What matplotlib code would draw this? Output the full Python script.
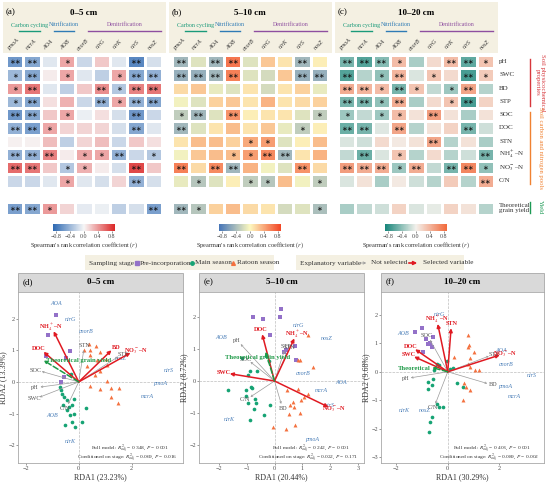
import numpy as np
import matplotlib.pyplot as plt
from matplotlib.colors import LinearSegmentedColormap
from matplotlib.patches import Rectangle

plt.rcParams['font.family'] = ['Liberation Serif', 'DejaVu Serif']
plt.rcParams['mathtext.fontset'] = 'stix'

### data ###
genes = ['pmoA', 'mcrA', 'AOA', 'AOB', 'cnorB', 'nirG', 'nirK', 'nirS', 'nosZ']
props = ['pH', 'SWC', 'BD', 'STP', 'SOC', 'DOC', 'STN', 'NH$_4^+$–N', 'NO$_3^-$–N', 'C/N']
yield_label = 'Theoretical\ngrain yield'
depths = ['0–5 cm', '5–10 cm', '10–20 cm']

# spearman r, rows = props, cols = genes
r_05 = [[-0.60, -0.50, -0.10, 0.35, -0.20, 0.20, -0.10, -0.70, -0.15],
        [-0.40, -0.50, 0.05, 0.35, -0.10, -0.25, 0.35, -0.50, -0.45],
        [0.40, 0.55, -0.10, -0.25, 0.20, 0.45, -0.30, 0.50, 0.55],
        [-0.40, -0.50, 0.10, 0.30, -0.20, -0.45, 0.35, -0.45, -0.50],
        [-0.60, -0.50, 0.20, 0.35, -0.05, 0.10, -0.15, -0.60, -0.20],
        [-0.45, -0.55, 0.35, 0.15, 0.15, 0.15, -0.15, -0.50, -0.10],
        [0.03, 0.03, 0.25, -0.25, 0.15, 0.25, -0.20, 0.20, 0.10],
        [-0.45, -0.45, 0.50, 0.05, 0.35, 0.35, -0.45, -0.20, -0.30],
        [0.60, 0.55, 0.20, -0.30, 0.30, 0.05, -0.15, 0.75, 0.20],
        [-0.20, -0.20, -0.10, 0.35, -0.10, -0.15, 0.15, -0.45, -0.15]]
sig_05 = [[2, 2, 0, 1, 0, 0, 0, 2, 0],
          [1, 2, 0, 1, 0, 0, 1, 2, 2],
          [1, 2, 0, 0, 0, 2, 1, 2, 2],
          [1, 2, 0, 0, 0, 2, 1, 2, 2],
          [2, 2, 0, 1, 0, 0, 0, 2, 0],
          [2, 2, 1, 0, 0, 0, 0, 2, 0],
          [0, 0, 0, 0, 0, 0, 0, 0, 0],
          [2, 2, 2, 0, 1, 1, 2, 0, 1],
          [2, 2, 0, 1, 1, 0, 0, 2, 0],
          [0, 0, 0, 1, 0, 0, 0, 2, 0]]
yld_05 = [-0.55, -0.50, 0.40, 0.15, -0.08, -0.05, -0.25, -0.15, -0.55]
yld_sig_05 = [2, 2, 1, 0, 0, 0, 0, 0, 2]

r_510 = [[-0.45, -0.15, -0.45, 0.65, -0.15, 0.25, 0.10, -0.45, 0.05],
         [-0.50, -0.50, -0.45, 0.60, -0.15, -0.20, 0.25, -0.50, -0.50],
         [0.15, 0.25, -0.10, -0.15, 0.10, -0.20, 0.10, 0.20, -0.10],
         [-0.05, -0.15, 0.20, 0.25, 0.10, 0.35, 0.10, 0.15, 0.20],
         [-0.30, -0.45, -0.15, 0.50, 0.05, 0.10, 0.10, -0.15, -0.30],
         [-0.45, -0.15, 0.10, 0.30, 0.10, 0.25, -0.10, -0.30, 0.05],
         [0.10, 0.30, 0.30, 0.20, 0.40, 0.45, -0.15, 0.05, 0.30],
         [-0.05, 0.25, 0.30, 0.30, 0.45, 0.55, -0.45, 0.10, 0.35],
         [0.60, 0.15, 0.55, -0.45, 0.35, -0.05, -0.15, 0.50, 0.15],
         [-0.10, -0.35, -0.15, 0.05, -0.30, -0.35, 0.30, -0.05, -0.30]]
sig_510 = [[2, 0, 2, 2, 0, 0, 0, 2, 0],
           [2, 2, 2, 2, 0, 0, 0, 2, 2],
           [0, 0, 0, 0, 0, 0, 0, 0, 0],
           [0, 0, 0, 0, 0, 0, 0, 0, 0],
           [1, 2, 0, 2, 0, 0, 0, 0, 1],
           [2, 0, 0, 0, 0, 0, 0, 1, 0],
           [0, 0, 0, 0, 1, 1, 0, 0, 0],
           [0, 0, 0, 1, 1, 2, 2, 0, 0],
           [2, 0, 2, 2, 0, 0, 0, 2, 0],
           [0, 1, 0, 0, 1, 1, 0, 0, 1]]
yld_510 = [-0.45, -0.35, 0.20, 0.30, 0.15, 0.10, -0.20, -0.15, -0.40]
yld_sig_510 = [2, 1, 0, 0, 0, 0, 0, 0, 1]

r_1020 = [[-0.50, -0.65, -0.45, 0.35, -0.30, 0.15, 0.35, -0.60, 0.30],
          [-0.65, -0.25, -0.40, 0.40, -0.10, 0.30, 0.15, -0.70, 0.25],
          [0.45, 0.40, 0.35, -0.50, 0.30, -0.20, -0.35, 0.50, -0.25],
          [-0.50, -0.50, -0.40, 0.45, -0.30, 0.15, 0.30, -0.70, 0.20],
          [-0.35, -0.20, -0.35, 0.35, 0.10, 0.55, 0.10, -0.30, 0.10],
          [-0.55, -0.50, -0.08, 0.50, -0.25, 0.10, 0.20, -0.50, -0.15],
          [-0.10, -0.15, 0.15, 0.05, 0.10, 0.50, -0.25, 0.10, -0.30],
          [-0.20, -0.55, -0.10, 0.30, -0.25, 0.15, -0.25, -0.15, -0.50],
          [0.55, 0.45, 0.45, -0.35, 0.45, -0.20, -0.50, 0.70, -0.40],
          [-0.10, 0.10, -0.30, 0.05, -0.15, -0.25, 0.25, -0.25, 0.45]]
sig_1020 = [[2, 2, 2, 1, 0, 0, 2, 2, 1],
            [2, 0, 1, 2, 0, 1, 0, 2, 1],
            [2, 2, 1, 2, 1, 0, 1, 2, 0],
            [2, 2, 1, 2, 0, 0, 1, 2, 0],
            [1, 0, 1, 1, 0, 2, 0, 0, 0],
            [2, 2, 0, 2, 0, 0, 0, 2, 0],
            [0, 0, 0, 0, 0, 2, 0, 0, 0],
            [0, 2, 0, 1, 0, 0, 0, 0, 2],
            [2, 2, 2, 1, 2, 0, 2, 2, 1],
            [0, 0, 0, 0, 0, 0, 0, 0, 2]]
yld_1020 = [-0.30, -0.20, -0.15, 0.20, -0.10, -0.05, 0.20, 0.10, -0.25]
yld_sig_1020 = [0, 0, 0, 0, 0, 0, 0, 0, 0]

# RDA scores
env_names = ['pH', 'SWC', 'BD', 'STP', 'SOC', 'DOC', 'STN', 'NH$_4^+$–N', 'NO$_3^-$–N', 'C/N']

d_pre_x = [-0.86, -1.16, -0.34, -1.24, -0.47, -0.57, -0.67]
d_pre_y = [2.11, 1.49, 0.98, 0.81, 0.77, 0.16, 0.00]
d_main_x = [-0.28, -0.70, -0.66, -0.63, -0.57, -0.19, -0.44, -0.59, -0.25, -0.38, -0.44, -0.19, -0.32, 0.29, 0.13, -0.25, -0.51, -0.13]
d_main_y = [0.26, -0.16, -0.24, -0.37, -0.47, -0.53, -0.58, -0.72, -0.72, -0.79, -0.89, -1.02, -1.05, -0.82, -1.26, -1.26, -1.37, -1.42]
d_rat_x = [0.38, 0.67, 0.19, 0.42, 0.82, 0.42, 1.05, 0.70, 1.08, 0.32, 0.82, 0.61, 1.08, 0.42, 0.82, 1.23, 1.54, 1.24, 1.48]
d_rat_y = [1.19, 1.14, 1.00, 1.02, 0.93, 0.84, 0.74, 0.68, 0.53, 0.49, 0.35, 0.21, 0.03, -0.14, -0.21, -0.19, -0.18, -0.47, -0.65]
d_env_x = [-1.45, -1.48, 1.24, 1.50, -1.40, -1.33, 0.19, -0.95, 1.96, -0.40]
d_env_y = [-0.16, -0.48, 1.00, 0.80, 0.33, 0.95, 1.00, 1.60, 0.92, -0.70]
d_sel = [0, 0, 1, 0, 0, 1, 0, 1, 1, 0]
d_yield = [-1.33, 0.68]
d_sp_x = [3.08, 2.60, -0.85, -1.01, 0.29, -0.32, -0.32, 3.42, 1.58]
d_sp_y = [-0.05, -0.45, 2.47, -1.07, 1.58, 1.98, -1.89, 0.35, 0.74]

e_pre_x = [0.24, 0.21, -0.77, -0.42, -0.15, 0.42, 0.75, 0.77, 0.35]
e_pre_y = [2.25, 2.02, 2.02, 1.94, 1.44, 0.97, 1.09, 0.65, 0.90]
e_main_x = [-1.15, -1.67, -0.89, -0.63, -0.95, -1.01, -0.83, -0.80, -1.01, -0.95, -0.71, -0.65, -0.75, -0.89, -0.36, -0.15, -0.32, -0.20]
e_main_y = [0.71, -0.29, 0.32, 0.32, 0.18, -0.27, -0.19, -0.23, -0.48, -0.69, -0.56, -0.69, -0.87, -1.24, -1.08, -0.75, 0.78, 0.62]
e_rat_x = [1.19, 0.83, 0.92, 1.37, 0.44, 0.83, 1.19, 1.07, 0.95, 0.65, 0.56, 0.71, 0.51, 0.92, 0.75, 0.42, -0.04]
e_rat_y = [1.44, 0.65, 0.65, 0.44, -0.29, -0.24, -0.40, -0.50, -0.59, -0.66, -0.74, -0.82, -1.05, -1.01, -1.37, -1.50, -1.45]
e_env_x = [-1.21, -1.60, 0.24, 0.35, -0.86, -0.44, 0.45, 0.71, 1.93, -0.86]
e_env_y = [1.16, 0.23, -0.72, 0.95, 0.60, 1.47, 0.90, 1.34, -0.82, -0.50]
e_sel = [0, 1, 0, 0, 0, 1, 0, 1, 1, 0]
e_yield = [-0.32, 0.92]
e_sp_x = [1.35, 1.67, 2.40, -1.90, 1.04, 0.87, -1.60, 1.96, 1.85]
e_sp_y = [-1.85, -0.29, -0.05, 1.37, 0.25, 1.76, -1.22, -0.78, 1.34]

f_pre_x = [-1.27, -1.00, -0.85, -0.69, -0.56, -0.78, -0.60, -0.95]
f_pre_y = [1.38, 1.53, 1.14, 1.02, 1.21, 0.98, 0.88, 0.70]
f_main_x = [-0.43, -0.33, 0.20, -0.04, -0.52, -0.56, -0.78, -0.75, -0.61, 0.35, 0.59, -0.43, -0.33, -0.20, -0.61, -0.68, -0.72, 0.10]
f_main_y = [0.29, 0.24, 0.12, 0.39, 0.06, -0.24, -0.35, -0.62, -0.47, -0.41, -0.53, -1.12, -1.24, -1.24, -1.59, -1.76, -2.12, 0.10]
f_rat_x = [0.78, 0.82, 0.78, 1.02, 0.26, 0.85, 0.78, 0.85, 1.05, 1.22, 0.65, 0.72, 0.85, 0.59]
f_rat_y = [1.29, 0.94, 0.86, 0.68, 0.53, 0.50, 0.29, 0.17, 0.08, 0.08, -0.41, -0.53, -0.65, -1.00]
f_env_x = [-1.44, -1.31, 1.54, 1.60, -0.69, -1.27, 0.13, -0.39, 2.03, -0.48]
f_env_y = [-0.21, 0.53, -0.41, 0.55, 1.12, 0.79, 1.53, 1.68, 0.59, -1.12]
f_sel = [0, 1, 0, 0, 0, 1, 1, 1, 1, 0]
f_yield = [-0.61, 0.15]
f_sp_x = [2.26, 2.58, 2.09, -1.74, 2.29, -0.33, -1.70, 3.27, -0.88]
f_sp_y = [-0.53, -0.88, 0.76, 1.35, 0.24, 2.00, -1.35, -0.12, -1.35]

rda_xlab = ['RDA1 (23.23%)', 'RDA1 (20.44%)', 'RDA1 (30.29%)']
rda_ylab = ['RDA2 (13.39%)', 'RDA2 (8.72%)', 'RDA2 (9.68%)']
full_r2 = ['0.348', '0.242', '0.403']
cond_r2 = ['0.069', '0.022', '0.089']
cond_p = ['0.016', '0.171', '0.002']

### figure ###
W, H = 550, 484
fig = plt.figure(figsize=(W / 100, H / 100), dpi=100)

def px_axes(x0, y0, x1, y1):
    return fig.add_axes([x0 / W, 1 - y1 / H, (x1 - x0) / W, (y1 - y0) / H])

# overlay for boxes and text placed in pixel units
ov = fig.add_axes([0, 0, 1, 1], zorder=0)
ov.set_xlim(0, W)
ov.set_ylim(H, 0)
ov.axis('off')

beige = '#f4f0e2'
cmaps = [LinearSegmentedColormap.from_list('a', ['#2c68b2', '#f7f7f7', '#dc2626']),
         LinearSegmentedColormap.from_list('b', ['#4575b8', '#fdf9c0', '#f24424']),
         LinearSegmentedColormap.from_list('c', ['#16857a', '#f3f1ec', '#f2693a'])]
panel_tags = ['(a)', '(b)', '(c)']
heat_x = [6, 172, 338]
box_x = [3, 169, 335]
hw = 156
cw = hw / 9
r_all = [r_05, r_510, r_1020]
s_all = [sig_05, sig_510, sig_1020]
y_all = [yld_05, yld_510, yld_1020]
ys_all = [yld_sig_05, yld_sig_510, yld_sig_1020]
groups = [('Carbon cycling', 0, 2, '#1a9a7a'), ('Nitrification', 2, 4, '#2f7bb5'),
          ('Denitrification', 4, 9, '#8e4fa0')]

def stars(ax, sig, nrow):
    for i in range(nrow):
        for j in range(9):
            if sig[i][j]:
                ax.text(j + 0.5, i + 0.56, '∗' * sig[i][j], ha='center', va='center',
                        fontsize=5, family='DejaVu Sans', color='#111111')

for k in range(3):
    x0 = heat_x[k]
    ov.add_patch(Rectangle((box_x[k], 2), 163, 51, facecolor=beige, edgecolor='none'))
    ov.text(box_x[k] + 3, 12, panel_tags[k], fontsize=6.5, va='center')
    ov.text(x0 + hw / 2, 13, depths[k], fontsize=6.5, fontweight='bold', ha='center', va='center')
    for name, c0, c1, col in groups:
        a = x0 + c0 * cw + 0.75 * cw
        b = x0 + c1 * cw - 0.05 * cw
        ov.plot([a, b], [30.5, 30.5], color=col, lw=1.0)
        ov.text((a + b) / 2, 25, name, color=col, fontsize=4.3, ha='center', va='center')
    for j, g in enumerate(genes):
        ov.text(x0 + (j + 0.45) * cw, 44.5, g, rotation=45, fontsize=4.2, style='italic',
                ha='center', va='center', color='#333333')

    ax = px_axes(x0, 55, x0 + hw, 187.5)
    m = ax.pcolormesh(np.array(r_all[k]), cmap=cmaps[k], vmin=-0.9, vmax=0.9,
                      edgecolors='white', linewidth=1.0)
    ax.set_xlim(0, 9)
    ax.set_ylim(10, 0)
    ax.axis('off')
    stars(ax, s_all[k], 10)

    ay = px_axes(x0, 201.5, x0 + hw, 214.7)
    ay.pcolormesh(np.array([y_all[k]]), cmap=cmaps[k], vmin=-0.9, vmax=0.9,
                  edgecolors='white', linewidth=1.0)
    ay.set_xlim(0, 9)
    ay.set_ylim(1, 0)
    ay.axis('off')
    stars(ay, [ys_all[k]], 1)

    cx = x0 + hw / 2
    cax = px_axes(cx - 31, 224, cx + 31, 231)
    cb = fig.colorbar(m, cax=cax, orientation='horizontal', ticks=[-0.8, -0.4, 0, 0.4, 0.8])
    cb.outline.set_visible(False)
    cb.ax.set_xticklabels(['−0.8', '−0.4', '0.0', '0.4', '0.8'])
    cb.ax.tick_params(labelsize=4.3, length=1.5, width=0.4, pad=1, colors='#444444')
    ov.text(cx, 245, "Spearman's rank correlation coefficient ($r$)", fontsize=4.5,
            ha='center', va='center', color='#333333')

# row labels on the right
for i, p in enumerate(props):
    ov.text(499, 55 + (i + 0.5) * 13.25, p, fontsize=5, va='center', color='#333333')
ov.text(499, 208, yield_label, fontsize=5, va='center', color='#333333', linespacing=1.0)

side = [('Soil physicochemical\nproperties', 59, 106, '#d7373c'),
        ('Soil carbon and nitrogen pools', 112, 184, '#f08232'),
        ('Yield', 202, 213, '#1d9a55')]
for txt, a, b, col in side:
    ov.plot([530, 530], [a, b], color=col, lw=1.0)
    ov.text(540, (a + b) / 2, txt, rotation=-90, color=col, fontsize=4.8,
            ha='center', va='center', linespacing=1.0)

### legend row ###
c_pre, c_main, c_rat = '#9371c8', '#16a374', '#f4713f'
c_red, c_gray, c_blue, c_green = '#e01a22', '#9a9a9a', '#4a7eb8', '#1e9a47'
ov.add_patch(Rectangle((85, 255), 189, 15, facecolor=beige, edgecolor='none'))
ov.add_patch(Rectangle((296, 255), 168, 15, facecolor=beige, edgecolor='none'))
ly = 263
ov.text(89, ly, 'Sampling stage', fontsize=5.2, va='center', color='#333333')
ov.plot([137], [ly], marker='s', ms=2.5, color=c_pre, ls='none')
ov.text(140, ly, 'Pre-incorporation', fontsize=5.2, va='center', color='#333333')
ov.plot([192], [ly], marker='o', ms=2.5, color=c_main, ls='none')
ov.text(195, ly, 'Main season', fontsize=5.2, va='center', color='#333333')
ov.plot([233], [ly], marker='^', ms=2.7, color=c_rat, ls='none')
ov.text(237, ly, 'Ratoon season', fontsize=5.2, va='center', color='#333333')
ov.text(300, ly, 'Explanatory variable', fontsize=5.2, va='center', color='#333333')
ov.annotate('', xy=(369, ly), xytext=(357, ly),
            arrowprops=dict(arrowstyle='->', color=c_gray, lw=0.6, mutation_scale=4))
ov.text(371, ly, 'Not selected', fontsize=5.2, va='center', color='#333333')
ov.annotate('', xy=(420, ly), xytext=(406, ly),
            arrowprops=dict(arrowstyle='-|>', color=c_red, lw=1.2, mutation_scale=5))
ov.text(423, ly, 'Selected variable', fontsize=5.2, va='center', color='#333333')

### RDA panels ###
rda = [
    dict(pre=(d_pre_x, d_pre_y), main=(d_main_x, d_main_y), rat=(d_rat_x, d_rat_y),
         env=(d_env_x, d_env_y), sel=d_sel, yld=d_yield, sp=(d_sp_x, d_sp_y),
         xlim=(-2.3, 3.95), ylim=(-2.56, 2.84), xt=[-2, 0, 2], yt=[-2, -1, 0, 1, 2],
         ytxt='Theoretical grain yield', yoff=(0.08, 0.0, 'left')),
    dict(pre=(e_pre_x, e_pre_y), main=(e_main_x, e_main_y), rat=(e_rat_x, e_rat_y),
         env=(e_env_x, e_env_y), sel=e_sel, yld=e_yield, sp=(e_sp_x, e_sp_y),
         xlim=(-2.7, 3.2), ylim=(-2.58, 2.8), xt=[-2, -1, 0, 1, 2, 3], yt=[-2, -1, 0, 1, 2],
         ytxt='Theoretical grain yield', yoff=(-0.3, -0.18, 'center')),
    dict(pre=(f_pre_x, f_pre_y), main=(f_main_x, f_main_y), rat=(f_rat_x, f_rat_y),
         env=(f_env_x, f_env_y), sel=f_sel, yld=f_yield, sp=(f_sp_x, f_sp_y),
         xlim=(-2.6, 3.75), ylim=(-3.2, 2.8), xt=[-2, 0, 2], yt=[-3, -2, -1, 0, 1, 2],
         ytxt='Theoretical', yoff=(-0.05, -0.03, 'right')),
]
rda_x = [(18, 183), (199, 364), (381, 544)]
tags = ['(d)', '(e)', '(f)']

for k, P in enumerate(rda):
    xa, xb = rda_x[k]
    # strip header
    ov.add_patch(Rectangle((xa, 273), xb - xa, 19, facecolor='#d9d9d9', edgecolor='#a8a8a8', lw=0.6))
    ov.text(xa + 5, 282.5, tags[k], fontsize=6.5, va='center')
    ov.text((xa + xb) / 2, 282.5, depths[k], fontsize=6.5, fontweight='bold', ha='center', va='center')

    ax = px_axes(xa, 292, xb, 463)
    ax.set_xlim(*P['xlim'])
    ax.set_ylim(*P['ylim'])
    for s in ax.spines.values():
        s.set_color('#a8a8a8')
        s.set_linewidth(0.6)
    ax.set_xticks(P['xt'])
    ax.set_yticks(P['yt'])
    ax.tick_params(labelsize=4.5, length=1.5, width=0.4, pad=0.8, colors='#4d4d4d')
    ax.set_xlabel(rda_xlab[k], fontsize=5.8, labelpad=1.5, color='#333333')
    ax.set_ylabel(rda_ylab[k], fontsize=5.8, labelpad=0.6, color='#333333')
    ax.axhline(0, color='#bdbdbd', lw=0.5, ls='--', zorder=0)
    ax.axvline(0, color='#bdbdbd', lw=0.5, ls='--', zorder=0)

    ax.scatter(*P['pre'], marker='s', s=6, color=c_pre, lw=0, zorder=2)
    ax.scatter(*P['main'], marker='o', s=7, color=c_main, lw=0, zorder=2)
    ax.scatter(*P['rat'], marker='^', s=8, color=c_rat, lw=0, zorder=2)

    # species scores
    for g, x, y in zip(genes, *P['sp']):
        ax.text(x, y, g, fontsize=4.3, style='italic', color=c_blue, ha='center', va='center', zorder=3)

    # environmental arrows
    ex, ey = P['env']
    order = sorted(range(10), key=lambda i: P['sel'][i])
    for i in order:
        x, y = ex[i], ey[i]
        if P['sel'][i]:
            ax.annotate('', xy=(x, y), xytext=(0, 0), zorder=5,
                        arrowprops=dict(arrowstyle='-|>', color=c_red, lw=1.1, mutation_scale=5,
                                        shrinkA=0, shrinkB=0))
        else:
            ax.annotate('', xy=(x, y), xytext=(0, 0), zorder=4,
                        arrowprops=dict(arrowstyle='->', color=c_gray, lw=0.5, mutation_scale=3,
                                        shrinkA=0, shrinkB=0))
        nrm = np.hypot(x, y)
        lx, ly2 = x + 0.22 * x / nrm, y + 0.16 * y / nrm
        ax.text(lx, ly2, env_names[i], fontsize=4.5, ha='center', va='center', zorder=6,
                color=c_red if P['sel'][i] else '#555555',
                fontweight='bold' if P['sel'][i] else 'normal')

    yx, yy = P['yld']
    ax.annotate('', xy=(yx, yy), xytext=(0, 0), zorder=5,
                arrowprops=dict(arrowstyle='-|>', color=c_green, lw=1.1, ls='--', mutation_scale=4,
                                shrinkA=0, shrinkB=0))
    dx, dy, ha = P['yoff']
    ax.text(yx + dx, yy + dy, P['ytxt'], fontsize=4.8, fontweight='bold', color=c_green,
            ha=ha, va='center', zorder=6)

    ax.text(0.68, 0.085, 'Full model: $R^2_{adj}$ = %s, $P$ = 0.001' % full_r2[k], fontsize=3.9,
            transform=ax.transAxes, ha='center', va='center', color='#333333')
    ax.text(0.66, 0.03, 'Conditioned on stage: $R^2_{adj}$ = %s, $P$ = %s' % (cond_r2[k], cond_p[k]),
            fontsize=3.9, transform=ax.transAxes, ha='center', va='center', color='#333333')

fig.savefig('out.png', dpi=100)
